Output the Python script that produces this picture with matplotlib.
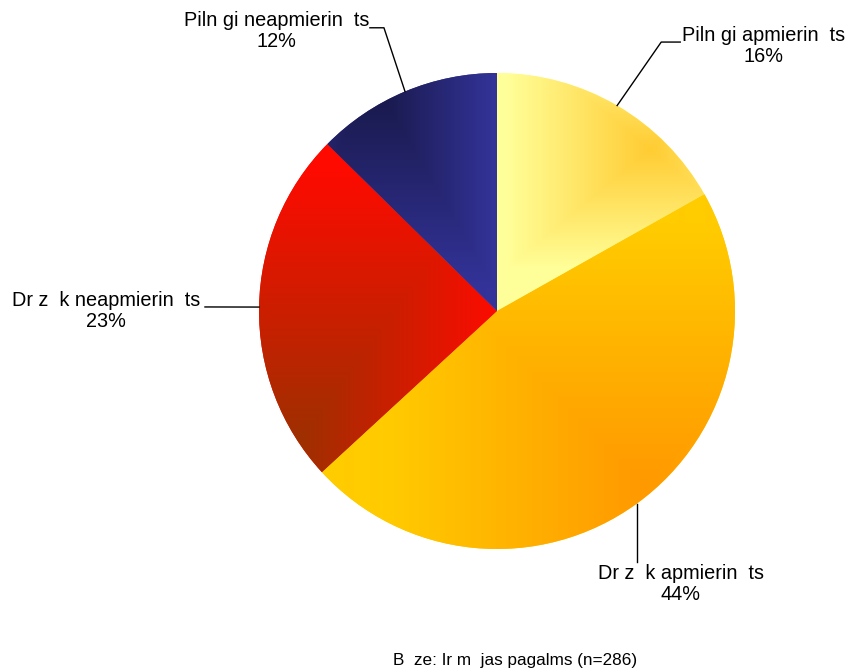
import numpy as np
import matplotlib
matplotlib.use("Agg")
import matplotlib.pyplot as plt
from matplotlib.colors import to_rgb

plt.rcParams["font.family"] = ["Liberation Sans", "DejaVu Sans"]

# data (clockwise from 12 o'clock)
labels = ["Piln gi apmierin  ts", "Dr z  k apmierin  ts",
          "Dr z  k neapmierin  ts", "Piln gi neapmierin  ts"]
values = [16, 44, 23, 12]
footer = "B  ze: Ir m  jas pagalms (n=286)"

# gradient styling per wedge: light colour, dark colour, dark spot, spread
light = ["#FFFF99", "#FFCC00", "#FF0A00", "#333399"]
dark = ["#FFCC33", "#FF9900", "#9E3000", "#181848"]
spot = [(0.64, 0.68), (0.62, -0.73), (-0.83, -0.54), (-0.51, 0.95)]
spread = [(0.60, 0.50), (1.10, 1.10), (0.85, 1.15), (0.50, 0.85)]

# label placement (data units, pie radius = 1)
text_xy = [(1.12, 1.113), (0.773, -1.147), (-1.643, 0.0), (-0.925, 1.176)]

W, H = 847, 672
fig = plt.figure(figsize=(W / 100, H / 100), dpi=100)
ax = fig.add_axes([0, 0, 1, 1])

cx, cy, R = 497, 311, 238
xlim = (-cx / R, (W - cx) / R)
ylim = (-(H - cy) / R, cy / R)

wedges, _ = ax.pie(values, startangle=90, counterclock=False, radius=1,
                   colors=light, wedgeprops=dict(linewidth=0))

gx = np.linspace(xlim[0], xlim[1], W)
gy = np.linspace(ylim[0], ylim[1], H)
X, Y = np.meshgrid(gx, gy)

for w, lc, dc, (sx0, sy0), (sx, sy) in zip(wedges, light, dark, spot, spread):
    d = np.maximum(np.abs(X - sx0) / sx, np.abs(Y - sy0) / sy)
    t = np.clip(d, 0, 1)[..., None]
    img = np.array(to_rgb(dc)) * (1 - t) + np.array(to_rgb(lc)) * t
    im = ax.imshow(img, extent=(*xlim, *ylim), origin="lower",
                   interpolation="bilinear", zorder=2)
    im.set_clip_path(w)

# leader lines + labels
for i, (w, lab, v, (tx, ty)) in enumerate(zip(wedges, labels, values, text_xy)):
    mid = np.deg2rad((w.theta1 + w.theta2) / 2)
    ax_, ay_ = np.cos(mid), np.sin(mid)
    if i == 0:
        xs, ys = [ax_, 0.69, 0.77], [ay_, 1.13, 1.13]
    elif i == 1:
        xs, ys = [ax_, ax_], [ay_, -1.055]
    elif i == 2:
        xs, ys = [ax_, -1.227], [ay_, 0.017]
    else:
        xs, ys = [ax_, -0.475, -0.534], [ay_, 1.19, 1.19]
    ax.plot(xs, ys, color="black", lw=1.0, zorder=3)
    ax.text(tx, ty, f"{lab}\n{v}%", ha="center", va="center",
            fontsize=14.3, linespacing=1.1, zorder=4)

ax.set_xlim(*xlim)
ax.set_ylim(*ylim)
ax.set_aspect("auto")
ax.axis("off")

fig.text(515 / W, 1 - 660 / H, footer, ha="center", va="center", fontsize=12.3)

fig.savefig("out.png", dpi=100)
